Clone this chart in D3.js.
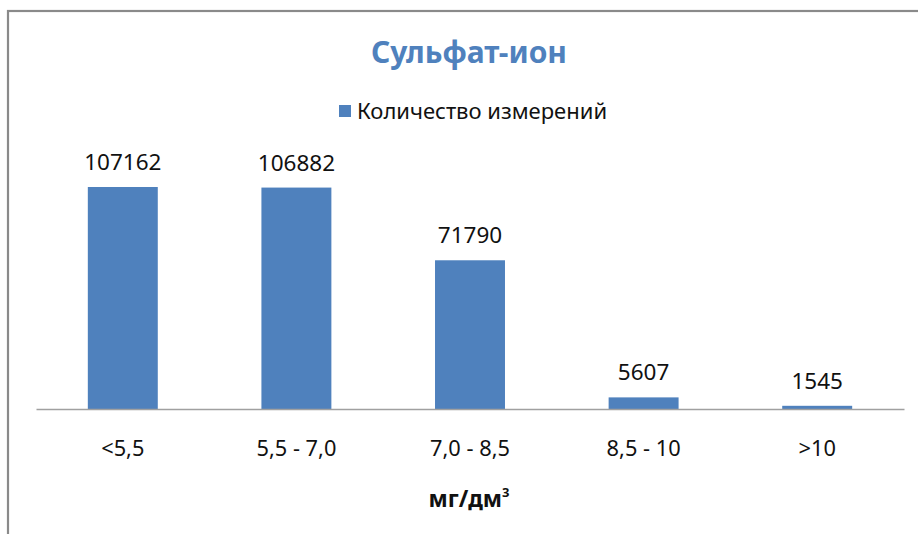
<!DOCTYPE html>
<html>
<head>
<meta charset="utf-8">
<script src="https://cdn.jsdelivr.net/npm/d3@7"></script>
<style>
  html, body { margin: 0; padding: 0; background: #fff; }
  svg { display: block; font-family: "Noto Sans", "Open Sans", sans-serif; }
</style>
</head>
<body>
<svg id="chart" width="918" height="534"></svg>
<script>
// Sulfate-ion measurement counts by concentration range
const categories = ["<5,5", "5,5 - 7,0", "7,0 - 8,5", "8,5 - 10", ">10"];
const counts = [107162, 106882, 71790, 5607, 1545];
const seriesName = "Количество измерений";
const chartTitle = "Сульфат-ион";
const axisTitle = "мг/дм";

const svg = d3.select("#chart");
const W = 918, H = 534;
const barColor = "#4F81BD";
const font = "'Noto Sans', 'Open Sans', sans-serif";

// outer frame (runs off the right and bottom edges)
svg.append("rect")
  .attr("x", 8).attr("y", 11)
  .attr("width", W + 20).attr("height", H + 20)
  .attr("fill", "#fff")
  .attr("stroke", "#8a8a8a").attr("stroke-width", 2.2);

const plot = { left: 36, right: 904, top: 160.4, bottom: 409 };

const x = d3.scaleBand()
  .domain(categories)
  .range([plot.left, plot.right])
  .paddingInner(0.597)
  .paddingOuter(0.2985);

const y = d3.scaleLinear()
  .domain([0, 120000])
  .range([plot.bottom, plot.top]);

// bars
svg.append("g").selectAll("rect")
  .data(counts)
  .join("rect")
  .attr("x", (d, i) => x(categories[i]))
  .attr("y", d => y(d))
  .attr("width", x.bandwidth())
  .attr("height", d => y(0) - y(d))
  .attr("fill", barColor);

// value labels
svg.append("g").selectAll("text")
  .data(counts)
  .join("text")
  .attr("x", (d, i) => x(categories[i]) + x.bandwidth() / 2)
  .attr("y", d => y(d) - 17)
  .attr("text-anchor", "middle")
  .attr("font-size", 22.5)
  .attr("fill", "#111")
  .text(d => d);

// category axis
const xAxis = svg.append("g")
  .attr("transform", `translate(0,${plot.bottom})`)
  .call(d3.axisBottom(x).tickSize(0).tickPadding(0));
xAxis.select(".domain").attr("stroke", "#a0a0a0").attr("stroke-width", 1.6);
xAxis.selectAll(".tick text")
  .attr("y", 47)
  .attr("dy", null)
  .attr("font-size", 21.8)
  .attr("font-family", font)
  .attr("fill", "#111");

// chart title
svg.append("text")
  .attr("x", 469).attr("y", 63)
  .attr("text-anchor", "middle")
  .attr("font-size", 30).attr("font-weight", "bold")
  .attr("fill", barColor)
  .text(chartTitle);

// legend
const legend = svg.append("g");
legend.append("rect")
  .attr("x", 339).attr("y", 105)
  .attr("width", 12).attr("height", 12)
  .attr("fill", barColor);
legend.append("text")
  .attr("x", 357).attr("y", 119)
  .attr("font-size", 22)
  .attr("fill", "#111")
  .text(seriesName);

// axis title with superscript
const at = svg.append("text")
  .attr("x", 469).attr("y", 507)
  .attr("text-anchor", "middle")
  .attr("font-size", 23).attr("font-weight", "bold")
  .attr("fill", "#111");
at.append("tspan").text(axisTitle);
at.append("tspan").attr("dy", -10).attr("font-size", 13).text("3");
</script>
</body>
</html>
